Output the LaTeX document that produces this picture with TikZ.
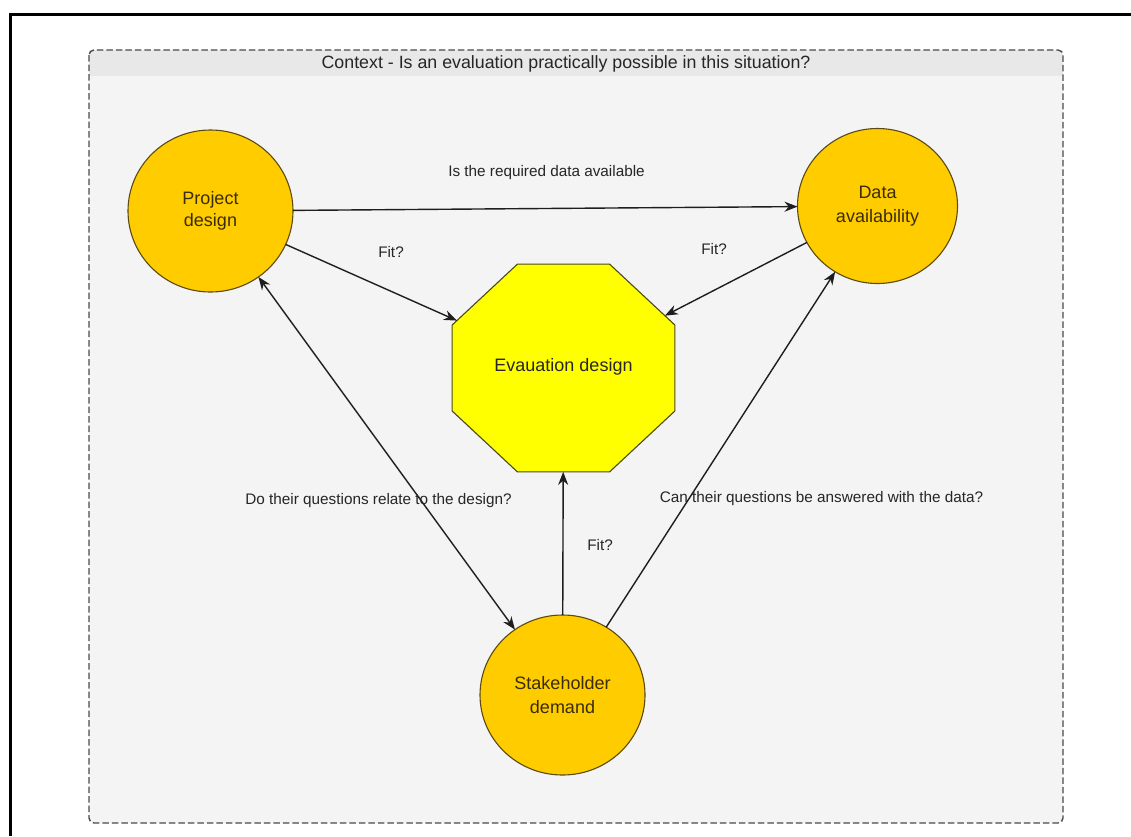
\documentclass[tikz,border=0pt]{standalone}
\usepackage{fontspec}
\setmainfont{Liberation Sans}
\usetikzlibrary{arrows.meta,shapes.geometric}
\definecolor{circfill}{HTML}{FFCC00}
\definecolor{circline}{HTML}{5C4A12}
\definecolor{octfill}{HTML}{FFFF00}
\definecolor{octline}{HTML}{4A4A1E}
\definecolor{bodygray}{HTML}{F4F4F4}
\definecolor{headgray}{HTML}{E8E8E8}
\definecolor{dashgray}{HTML}{4A4A4A}
\definecolor{labeltext}{HTML}{262626}
\definecolor{circtext}{HTML}{3A2C04}
\definecolor{arrowcol}{HTML}{1E1E1E}
\tikzset{
  circ/.style={ellipse, draw=circline, fill=circfill, line width=1.1pt,
    inner sep=0pt, outer sep=0pt, align=center, text=circtext,
    font=\fontsize{18}{24}\selectfont},
  octo/.style={regular polygon, regular polygon sides=8, draw=octline,
    fill=octfill, line width=1.1pt, inner sep=0pt, outer sep=0pt,
    minimum size=241pt},
  lbl/.style={text=labeltext, inner sep=0pt, font=\fontsize{15.3}{18}\selectfont},
  conn/.style={draw=arrowcol, line width=1.4pt, -{Stealth[length=13pt,width=10pt]}},
  conn2/.style={draw=arrowcol, line width=1.4pt, {Stealth[length=13pt,width=10pt]}-{Stealth[length=13pt,width=10pt]}},
}
\begin{document}
\begin{tikzpicture}[x=1pt,y=-1pt]
\useasboundingbox (0,0) rectangle (1131,836);
\fill[white] (0,0) rectangle (1131,836);
\draw[line width=3pt] (10,836) -- (10,14) -- (1131,14);
% container
\fill[bodygray, rounded corners=5pt] (89,50) rectangle (1063,823);
\begin{scope}
  \clip[rounded corners=5pt] (89,50) rectangle (1063,823);
  \fill[headgray] (89,50) rectangle (1063,76);
\end{scope}
\draw[dashgray, line width=1.4pt, dash pattern=on 6.5pt off 3pt, rounded corners=5pt]
  (89,50) rectangle (1063,823);
\node[text=labeltext, inner sep=0pt, font=\fontsize{17.8}{20}\selectfont] (title) at (566,64)
  {Context - Is an evaluation practically possible in this situation?};
% nodes
\node[circ, minimum width=165pt, minimum height=162pt] (proj) at (210.5,211) {\raisebox{-2pt}{Project}\\design};
\node[circ, minimum width=160pt, minimum height=155pt] (data) at (877.5,206) {Data\\availability};
\node[circ, minimum width=165pt, minimum height=160pt] (stake) at (562.5,695) {Stakeholder\\demand};
\node[octo, yscale=0.933] (eval) at (563.5,368) {};
\node[text=labeltext, inner sep=0pt, font=\fontsize{18}{22}\selectfont] (evaltext) at ([yshift=1pt]eval.center) {Evauation design};
% connectors
\draw[conn] (proj) -- (data);
\draw[conn] (proj) -- (eval);
\draw[conn] (data) -- (eval);
\draw[conn] (stake) -- (eval);
\draw[conn2] (proj) -- (stake);
\draw[conn] (stake) -- (data);
% labels
\node[lbl] (l1) at (546.5,173) {Is the required data available};
\node[lbl] (l2) at (391,252) {Fit?};
\node[lbl] (l3) at (714,249) {Fit?};
\node[lbl] (l4) at (600,545) {Fit?};
\node[lbl] (l5) at (378.5,501) {Do their questions relate to the design?};
\node[lbl] (l6) at (821.5,499) {Can their questions be answered with the data?};
\end{tikzpicture}
\end{document}
